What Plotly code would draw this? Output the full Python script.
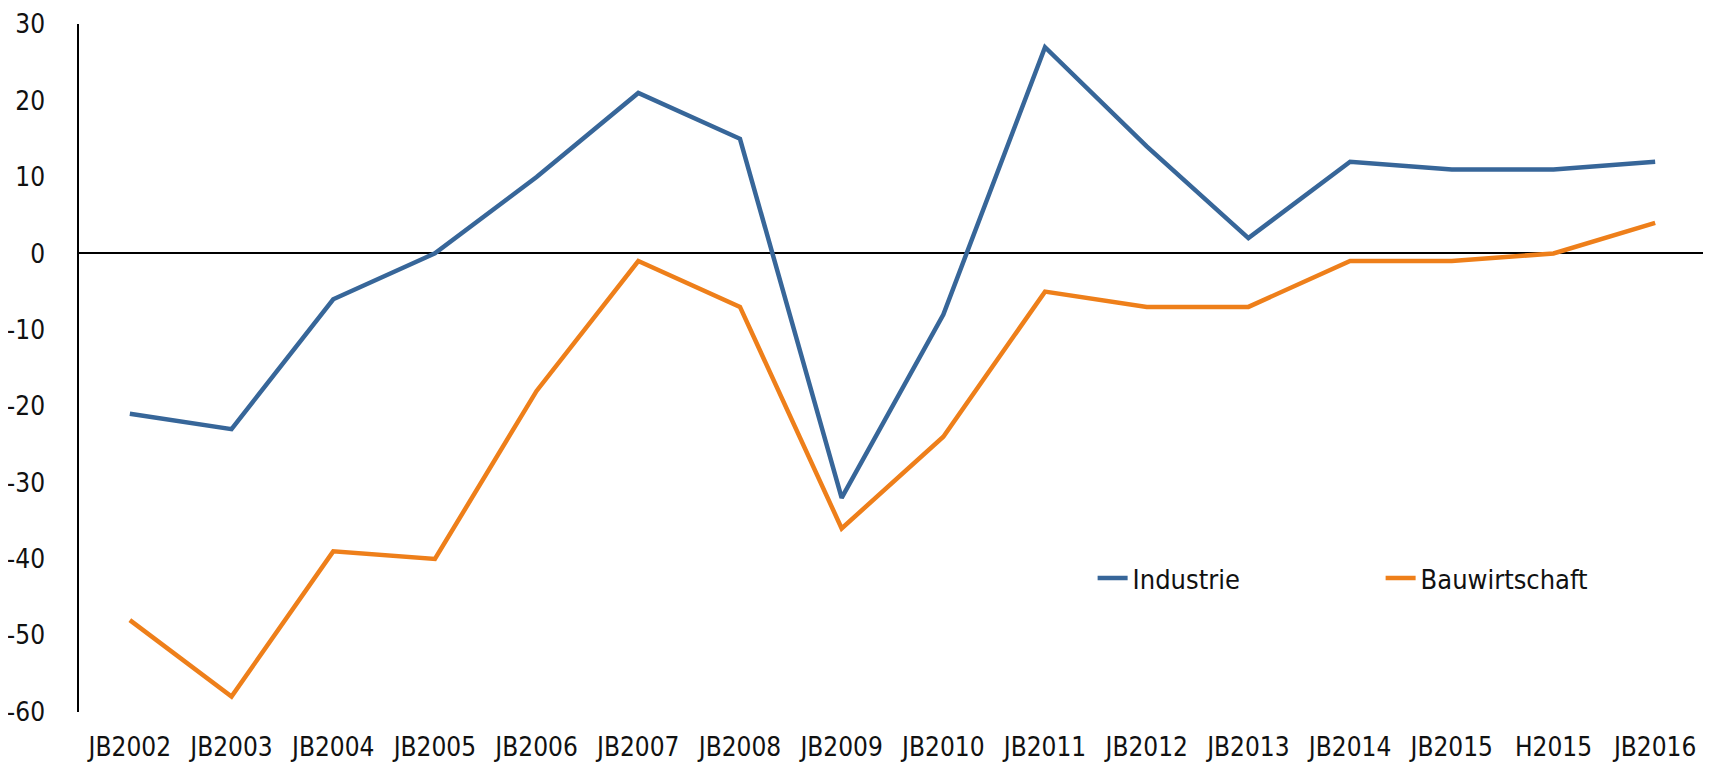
import plotly.graph_objects as go

periods = ["JB2002", "JB2003", "JB2004", "JB2005", "JB2006", "JB2007", "JB2008", "JB2009",
           "JB2010", "JB2011", "JB2012", "JB2013", "JB2014", "JB2015", "H2015", "JB2016"]
industrie = [-21, -23, -6, 0, 10, 21, 15, -32, -8, 27, 14, 2, 12, 11, 11, 12]
bauwirtschaft = [-48, -58, -39, -40, -18, -1, -7, -36, -24, -5, -7, -7, -1, -1, 0, 4]
y_ticks = [-60, -50, -40, -30, -20, -10, 0, 10, 20, 30]
y_labels = ["-60", "-50", "-40", "-30", "-20", "-10", "0", "10", "20", "30"]

FONT = "DejaVu Sans Condensed, Liberation Sans Narrow, sans-serif"

fig = go.Figure()
fig.add_trace(go.Scatter(x=periods, y=industrie, name="Industrie", mode="lines",
                         line=dict(color="#376699", width=4.5)))
fig.add_trace(go.Scatter(x=periods, y=bauwirtschaft, name="Bauwirtschaft", mode="lines",
                         line=dict(color="#EE7F1A", width=4.5)))

# page body adds ~8px offset, so the figure is a bit smaller than the window
fig.update_layout(
    width=1703, height=756,
    margin=dict(l=71, r=5, t=16, b=52, autoexpand=False),
    plot_bgcolor="white", paper_bgcolor="white",
    font=dict(family=FONT, size=26, color="#111111"),
    legend=dict(orientation="h", x=0.623, xanchor="left", y=0.194, yanchor="middle",
                entrywidth=243, entrywidthmode="pixels", bgcolor="rgba(0,0,0,0)",
                font=dict(size=27)),
)
fig.update_xaxes(showgrid=False, showline=False, zeroline=False, range=[-0.5, 15.5],
                 ticks="", ticklabelstandoff=17, automargin=False)
fig.update_yaxes(range=[-60.03, 30.03], tickvals=y_ticks, ticktext=y_labels, showgrid=False,
                 showline=True, linecolor="black", linewidth=1.5, zeroline=True,
                 zerolinecolor="black", zerolinewidth=1.5, ticks="", ticklabelstandoff=27,
                 tickfont=dict(size=26), automargin=False)

fig.write_html("out.html")
